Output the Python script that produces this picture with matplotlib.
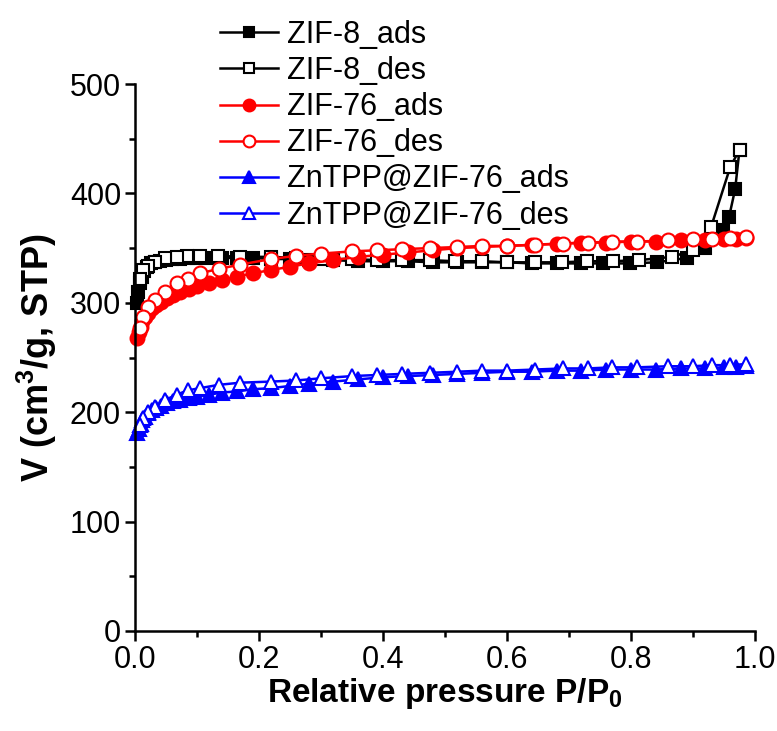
import numpy as np
import matplotlib
matplotlib.use("Agg")
import matplotlib.pyplot as plt
from matplotlib.ticker import MultipleLocator

plt.rcParams["font.family"] = ["Liberation Sans", "DejaVu Sans"]

# ==================== 数据====================
# ZIF-8
p8_ads = [0.003, 0.005, 0.008, 0.011, 0.015, 0.02, 0.026, 0.033, 0.041, 0.05, 0.06, 0.072,
          0.086, 0.10, 0.12, 0.14, 0.165, 0.19, 0.22, 0.25, 0.28, 0.32, 0.36, 0.40, 0.44,
          0.48, 0.52, 0.56, 0.60, 0.64, 0.68, 0.72, 0.755, 0.798, 0.842, 0.89, 0.92, 0.948,
          0.958, 0.968, 0.975]
v8_ads = [300, 310, 318, 324, 329, 333, 336, 337, 338, 339, 340, 340,
          341, 341, 341, 341, 341, 341, 340, 340, 339, 339, 338, 338, 338,
          337, 337, 337, 337, 336, 336, 336, 336, 336, 337, 341, 350, 367,
          378, 404, 440]
p8_des = [0.975, 0.96, 0.929, 0.90, 0.866, 0.813, 0.771, 0.729, 0.689, 0.645, 0.60, 0.56,
          0.516, 0.475, 0.43, 0.39, 0.35, 0.30, 0.26, 0.22, 0.17, 0.134, 0.105, 0.084,
          0.067, 0.048, 0.032, 0.021, 0.013, 0.008]
v8_des = [440, 424, 369, 348, 342, 339, 338, 338, 337, 337, 337, 338,
          338, 339, 339, 339, 340, 340, 341, 342, 342, 343, 343, 343,
          342, 341, 337, 334, 330, 322]

# ZIF-76 和 ZnTPP@ZIF-76 共用的压力点
p_ads = [0.004, 0.006, 0.009, 0.012, 0.016, 0.021, 0.027, 0.034, 0.042, 0.051, 0.061, 0.073,
         0.087, 0.10, 0.12, 0.14, 0.165, 0.19, 0.22, 0.25, 0.28, 0.32, 0.36, 0.40, 0.44,
         0.48, 0.52, 0.56, 0.60, 0.64, 0.68, 0.72, 0.76, 0.80, 0.84, 0.88, 0.92, 0.95,
         0.97, 0.985]
p_des = [0.985, 0.96, 0.93, 0.90, 0.86, 0.81, 0.77, 0.73, 0.69, 0.645, 0.60, 0.56,
         0.52, 0.475, 0.43, 0.39, 0.35, 0.30, 0.26, 0.22, 0.17, 0.135, 0.105, 0.085,
         0.067, 0.048, 0.032, 0.021, 0.013, 0.008]

v76_ads = [268, 273, 278, 283, 287, 291, 295, 298, 301, 304, 307, 310,
           313, 315, 318, 321, 324, 327, 330, 333, 336, 339, 342, 344, 346,
           348, 350, 351, 352, 353, 354, 355, 355, 356, 356, 357, 357, 358,
           358, 359]
v76_des = [360, 359, 358, 358, 357, 356, 356, 355, 354, 353, 352, 352,
           351, 350, 349, 348, 347, 345, 343, 340, 335, 331, 327, 322,
           318, 310, 303, 296, 287, 277]

vzn_ads = [181, 185, 189, 193, 196, 199, 202, 204, 206, 208, 210, 211,
           213, 214, 216, 218, 219, 221, 222, 224, 226, 228, 230, 232, 233,
           234, 235, 236, 237, 237, 238, 238, 239, 239, 239, 240, 240, 241,
           241, 242]
vzn_des = [244, 243, 243, 242, 242, 241, 241, 240, 240, 239, 238, 238,
           237, 236, 235, 234, 233, 231, 229, 228, 227, 225, 222, 220,
           216, 211, 205, 200, 195, 188]

labels = ["ZIF-8_ads", "ZIF-8_des", "ZIF-76_ads", "ZIF-76_des",
          "ZnTPP@ZIF-76_ads", "ZnTPP@ZIF-76_des"]

# ==================== 绘图 ====================
fig = plt.figure(figsize=(7.77, 7.31), dpi=100)
ax = fig.add_axes([135 / 777, 1 - 631 / 731, 620 / 777, 547 / 731])

lw = 1.8
mew = 1.5
series = [
    (p8_ads, v8_ads, "black", "s", "black", 8.5),
    (p8_des, v8_des, "black", "s", "white", 8.5),
    (p_ads, v76_ads, "#ff0000", "o", "#ff0000", 10),
    (p_des, v76_des, "#ff0000", "o", "white", 10),
    (p_ads, vzn_ads, "#0000ff", "^", "#0000ff", 10),
    (p_des, vzn_des, "#0000ff", "^", "white", 10),
]
handles = []
for (x, y, c, m, fc, ms), lab in zip(series, labels):
    h, = ax.plot(x, y, color=c, lw=lw, marker=m, markerfacecolor=fc,
                 markeredgecolor=c, markeredgewidth=mew, markersize=ms,
                 label=lab, clip_on=False)
    handles.append(h)

ax.set_xlim(0, 1.0)
ax.set_ylim(0, 500)
ax.xaxis.set_major_locator(MultipleLocator(0.2))
ax.xaxis.set_minor_locator(MultipleLocator(0.1))
ax.yaxis.set_major_locator(MultipleLocator(100))
ax.yaxis.set_minor_locator(MultipleLocator(50))
ax.set_xticks([0.0, 0.2, 0.4, 0.6, 0.8, 1.0])
ax.set_xticklabels(["0.0", "0.2", "0.4", "0.6", "0.8", "1.0"])

for s in ["top", "right"]:
    ax.spines[s].set_visible(False)
for s in ["left", "bottom"]:
    ax.spines[s].set_linewidth(1.8)
ax.tick_params(which="major", direction="out", length=7, width=1.8, labelsize=22, pad=3)
ax.tick_params(which="minor", direction="out", length=4, width=1.8)

ax.set_xlabel("Relative pressure P/P$_\\mathregular{0}$", fontsize=24, fontweight="bold",
              labelpad=1)
ax.set_ylabel("V (cm$^\\mathregular{3}$/g, STP)", fontsize=26, fontweight="bold", labelpad=8)

leg = fig.legend(handles=handles, loc="upper left", bbox_to_anchor=(220 / 777, 1 - 20 / 731),
                 frameon=False, fontsize=22, handlelength=1.9, handletextpad=0.3,
                 labelspacing=0.2, borderpad=0, borderaxespad=0, markerscale=0.85)

fig.savefig("out.png", dpi=100)
